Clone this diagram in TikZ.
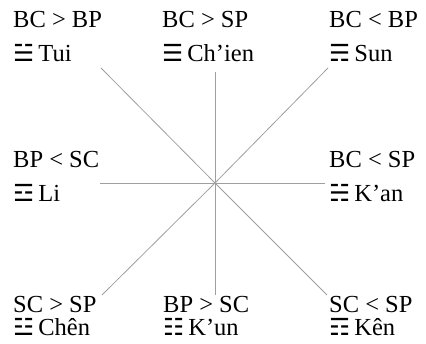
\documentclass[tikz,border=0pt]{standalone}
\usepackage{fontspec}
\setmainfont{Liberation Serif}
\newfontfamily\trifont{DejaVu Sans}
\newcommand{\tri}[1]{{\trifont\fontsize{23.5}{23.5}\selectfont #1}\kern-2pt\relax}
\begin{document}
\begin{tikzpicture}[x=1pt,y=1pt,
  lbl/.style={anchor=north west,inner sep=0pt,align=left},
  toprow/.style={lbl,font=\fontsize{24.5}{34}\selectfont},
  midrow/.style={lbl,font=\fontsize{24.5}{33.5}\selectfont},
  botrow/.style={lbl,font=\fontsize{24.5}{22.5}\selectfont},
  ray/.style={draw=gray!75,line width=0.8pt}]
\useasboundingbox (0,0) rectangle (426,344);
\coordinate (c) at (215,161);
\coordinate (tl) at (101,276);
\coordinate (t) at (215,272);
\coordinate (tr) at (328,276);
\coordinate (r) at (325,161);
\coordinate (br) at (327,49);
\coordinate (b) at (215,49);
\coordinate (bl) at (102,49);
\coordinate (l) at (100,161);
\foreach \e in {tl,t,tr,r,br,b,bl,l} \draw[ray] (c) -- (\e);
\node[toprow] (tui) at (13,332.6) {BC > BP\\\tri{☱} Tui};
\node[toprow] (chien) at (162,332.6) {BC > SP\\\tri{☰} Ch’ien};
\node[toprow] (sun) at (329,332.6) {BC < BP\\\tri{☴} Sun};
\node[midrow] (li) at (13,192.6) {BP < SC\\\tri{☲} Li};
\node[midrow] (kan) at (329,192.6) {BC < SP\\\tri{☵} K’an};
\node[botrow] (chen) at (13,47.6) {SC > SP\\\tri{☳} Chên};
\node[botrow] (kun) at (163,47.6) {BP > SC\\\tri{☷} K’un};
\node[botrow] (ken) at (329,47.6) {SC < SP\\\tri{☶} Kên};
\end{tikzpicture}
\end{document}
